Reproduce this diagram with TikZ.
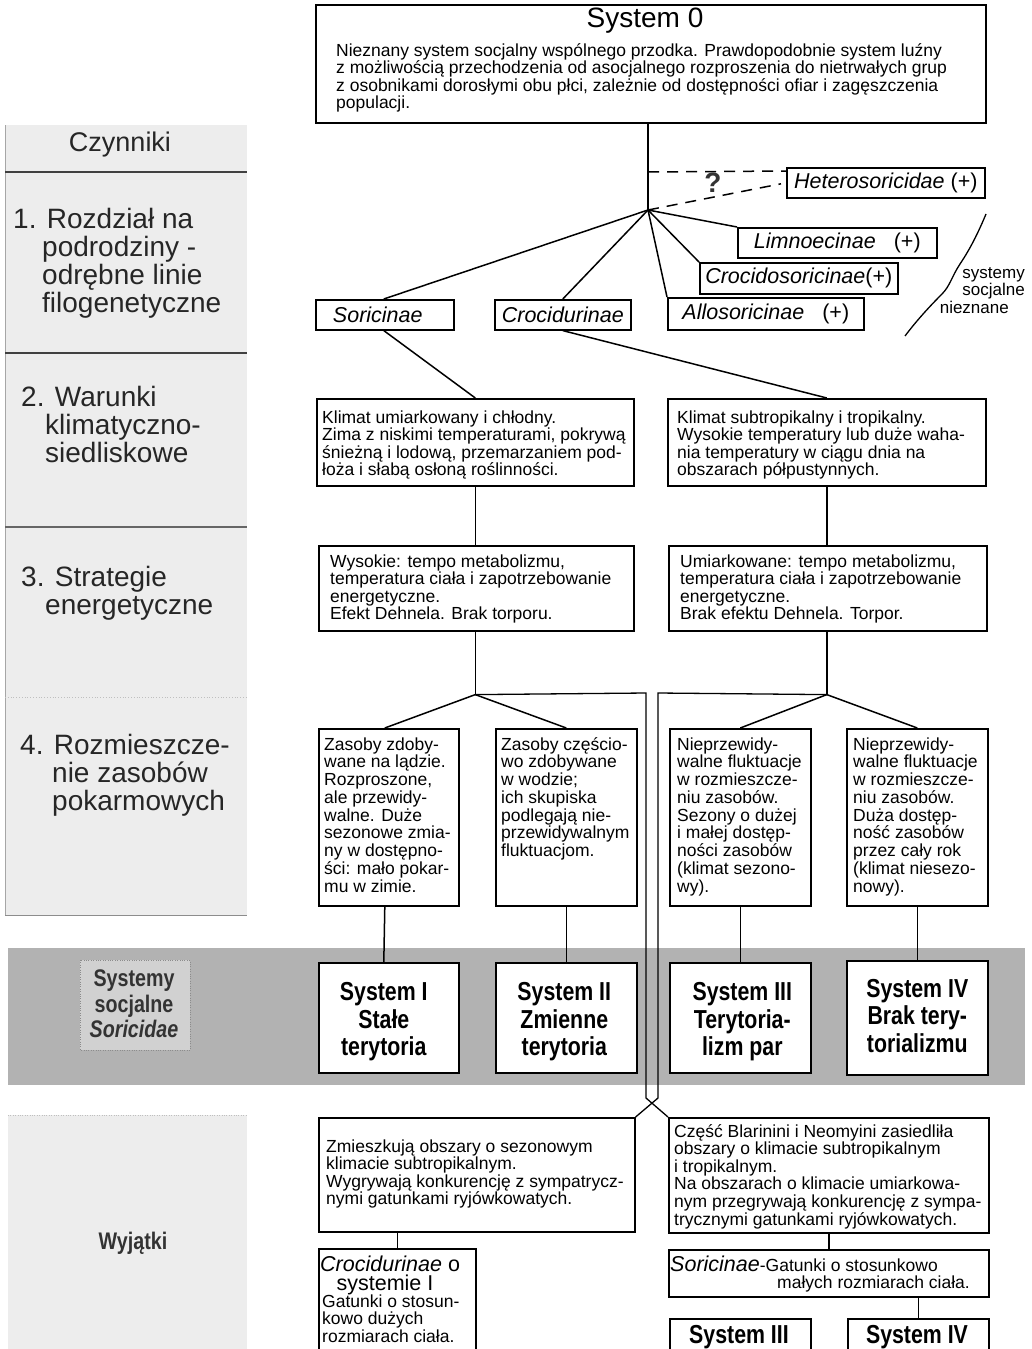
\documentclass[tikz,border=0pt]{standalone}
\usepackage{fontspec}
\setmainfont{Liberation Sans}
\newfontfamily\condf[FakeStretch=0.82]{Liberation Sans}
\usetikzlibrary{calc}
\begin{document}
\begin{tikzpicture}[x=1pt,y=-1pt,
 box/.style={draw, line width=1.6pt, rectangle, inner sep=0pt, anchor=north west, fill=white},
 con/.style={line width=1.5pt},
 body/.style={anchor=base west, inner sep=0pt, align=left, font=\fontsize{17.5}{17.6}\selectfont},
 lab/.style={anchor=base west, inner sep=0pt, align=left, font=\fontsize{28}{28}\selectfont, text=black!85},
 taxon/.style={box, font=\fontsize{21.5}{21.5}\selectfont\itshape},
 systxt/.style={inner sep=0pt, align=center, font=\condf\bfseries\fontsize{26}{27.5}\selectfont},
 bandtxt/.style={inner sep=0pt, align=center, font=\condf\bfseries\fontsize{24}{25.5}\selectfont, text=black!80}
]
\useasboundingbox (0,0) rectangle (1032,1349);
\clip (0,0) rectangle (1032,1349);
\fill[white] (0,0) rectangle (1032,1349);

% ---------- left column ----------
\fill[black!7] (5,125) rectangle (247,915);
\draw[black!35, line width=0.6pt] (5,125) -- (5,915);
\draw[black!75, line width=1.5pt] (5,172) -- (247,172);
\draw[black!75, line width=1.5pt] (5,353) -- (247,353);
\draw[black!60, line width=1.3pt] (5,527) -- (247,527);
\draw[black!25, line width=0.8pt, dotted] (5,697) -- (247,697);
\draw[black!45, line width=1pt] (5,915) -- (247,915);
\node[inner sep=0pt, font=\fontsize{27}{27}\selectfont, text=black!85] (czy) at (120,145) {Czynniki};
% base anchor = baseline of last line
\node[lab] (f1) at (13,312) {1. Rozdział na\\\hspace*{29pt}podrodziny -\\\hspace*{29pt}odrębne linie\\\hspace*{29pt}filogenetyczne};
\node[lab] (f2) at (21,462) {2. Warunki\\\hspace*{24pt}klimatyczno-\\\hspace*{24pt}siedliskowe};
\node[lab] (f3) at (21,614) {3. Strategie\\\hspace*{24pt}energetyczne};
\node[lab] (f4) at (20,810) {4. Rozmieszcze-\\\hspace*{32pt}nie zasobów\\\hspace*{32pt}pokarmowych};

% ---------- band ----------
\fill[black!30] (8,948) rectangle (1025,1085);
\draw[black!45, dotted, fill=black!18] (80,960) rectangle (190,1050);
\node[bandtxt] (bandlab) at (134,1004) {Systemy\\socjalne\\\textit{Soricidae}};

% ---------- exceptions column ----------
\fill[black!7] (8,1115) rectangle (247,1349);
\draw[black!25, dotted] (8,1115) -- (247,1115);
\node[bandtxt] (wyj) at (133,1243) {Wyjątki};

% ---------- System 0 ----------
\node[box, minimum width=670, minimum height=118] (sys0) at (315,4) {};
\node[inner sep=0pt, font=\fontsize{28}{28}\selectfont] (sys0t) at (645,21) {System 0};
\node[body] (sys0b) at (336,108.8) {Nieznany system socjalny wspólnego przodka. Prawdopodobnie system luźny\\z możliwością przechodzenia od asocjalnego rozproszenia do nietrwałych grup\\z osobnikami dorosłymi obu płci, zależnie od dostępności ofiar  i zagęszczenia\\populacji.};

% ---------- taxa ----------
\node[taxon, minimum width=198, minimum height=30] (het) at (786,167) {Heterosoricidae \textup{(+)}};
\node[taxon, minimum width=199, minimum height=30] (lim) at (737,227) {Limnoecinae \hspace{12pt}\textup{(+)}};
\node[taxon, minimum width=198, minimum height=31] (cso) at (699,262) {Crocidosoricinae\textup{(+)}};
\node[taxon, minimum width=196, minimum height=32] (all) at (667,297) {Allosoricinae \hspace{12pt}\textup{(+)}};
\node[taxon, minimum width=136, minimum height=30] (cro) at (494,299) {Crocidurinae};
\node[taxon, minimum width=138, minimum height=30] (sor) at (315,299) {Soricinae\hspace*{14pt}};

\coordinate (j0) at (648,210);
\coordinate (jd) at (648,172);
\draw[con] (sys0.south -| j0) -- (j0);
\draw[con, dashed, dash pattern=on 11pt off 8pt] (jd) -- ($(het.north west)+(0,4)$);
\draw[con, dashed, dash pattern=on 11pt off 8pt] (j0) -- ($(het.west)+(-5,1)$);
\node[inner sep=0pt, font=\bfseries\fontsize{28}{28}\selectfont, text=black!80] (q) at (713,183) {?};
\draw[con] (j0) -- (lim.north west);
\draw[con] (j0) -- (cso.north west);
\draw[con] (j0) -- (all.north west);
\draw[con] (j0) -- (cro.north);
\draw[con] (j0) -- ($(sor.north)+(-1,0)$);

% unknown systems
\draw[line width=1.3pt] (986,214) .. controls (976,238) and (968,252) .. (960,264)
  .. controls (952,276) and (950,286) .. (942,294)
  .. controls (926,310) and (914,324) .. (905,336);
\node[anchor=base east, inner sep=0pt, align=right, font=\fontsize{17}{17.5}\selectfont] (unk) at (1025,313) {systemy\\socjalne\hspace*{8pt}\\nieznane\hspace*{16pt}};

% ---------- climate ----------
\node[box, minimum width=317, minimum height=87] (klL) at (316,398) {};
\node[box, minimum width=318, minimum height=87] (klR) at (667,398) {};
\node[body] (klLt) at (322,475.8) {Klimat umiarkowany i chłodny.\\Zima z niskimi temperaturami, pokrywą\\śnieżną i lodową, przemarzaniem pod-\\łoża i słabą osłoną roślinności.};
\node[body] (klRt) at (677,475.8) {Klimat subtropikalny i tropikalny.\\Wysokie temperatury lub duże waha-\\nia temperatury w ciągu dnia na\\obszarach półpustynnych.};
\draw[con] ($(sor.south)+(-1,0)$) -- (klL.north);
\draw[con] (cro.south) -- (klR.north);

% ---------- energy ----------
\node[box, minimum width=315, minimum height=85] (enL) at (318,545) {};
\node[box, minimum width=318, minimum height=85] (enR) at (668,545) {};
\node[body] (enLt) at (330,619.8) {Wysokie: tempo metabolizmu,\\temperatura ciała i zapotrzebowanie\\energetyczne.\\Efekt Dehnela. Brak torporu.};
\node[body] (enRt) at (680,619.8) {Umiarkowane: tempo metabolizmu,\\temperatura ciała i zapotrzebowanie\\energetyczne.\\Brak efektu Dehnela. Torpor.};
\draw[con] (klL.south) -- (enL.north -| klL.south);
\draw[con] (klR.south) -- (enR.north -| klR.south);

% ---------- resources ----------
\node[box, minimum width=140, minimum height=177] (rA) at (318,728) {};
\node[box, minimum width=141, minimum height=177] (rB) at (495,728) {};
\node[box, minimum width=141, minimum height=177] (rC) at (669,728) {};
\node[box, minimum width=141, minimum height=177] (rD) at (846,728) {};
\node[body, font=\fontsize{17.5}{17.75}\selectfont] (rAt) at (324,892) {Zasoby zdoby-\\wane na lądzie.\\Rozproszone,\\ale przewidy-\\walne. Duże\\sezonowe zmia-\\ny w dostępno-\\ści: mało pokar-\\mu w zimie.};
\node[body, font=\fontsize{17.5}{17.75}\selectfont] (rBt) at (501,856.5) {Zasoby częścio-\\wo zdobywane\\w wodzie;\\ich skupiska\\podlegają nie-\\przewidywalnym\\fluktuacjom.};
\node[body, font=\fontsize{17.5}{17.75}\selectfont] (rCt) at (677,892) {Nieprzewidy-\\walne fluktuacje\\w rozmieszcze-\\niu zasobów.\\Sezony o dużej\\i małej dostęp-\\ności zasobów\\(klimat sezono-\\wy).};
\node[body, font=\fontsize{17.5}{17.75}\selectfont] (rDt) at (853,892) {Nieprzewidy-\\walne fluktuacje\\w rozmieszcze-\\niu zasobów.\\Duża dostęp-\\ność zasobów\\przez cały rok\\(klimat niesezo-\\nowy).};

\coordinate (jL) at (enL.south -| klL.south);
\coordinate (jL) at ($(jL)+(0,63)$);
\coordinate (jR) at (enR.south -| klR.south);
\coordinate (jR) at ($(jR)+(0,63)$);
\draw[con] (enL.south -| klL.south) -- (jL);
\draw[con] (enR.south -| klR.south) -- (jR);
\draw[con] (jL) -- ($(rA.north)+(-4,0)$);
\draw[con] (jL) -- (rB.north);
\draw[con] (jR) -- (rC.north);
\draw[con] (jR) -- (rD.north);

% ---------- systems ----------
\node[box, minimum width=140, minimum height=110] (sI) at (318,962) {};
\node[box, minimum width=141, minimum height=110] (sII) at (495,962) {};
\node[box, minimum width=141, minimum height=110] (sIII) at (669,962) {};
\node[box, minimum width=141, minimum height=114] (sIV) at (846,960) {};
\node[systxt] (sIt) at ($(sI)+(-5,4)$) {System I\\Stałe\\terytoria};
\node[systxt] (sIIt) at ($(sII)+(-2,4)$) {System II\\Zmienne\\terytoria};
\node[systxt] (sIIIt) at ($(sIII)+(2,4)$) {System III\\Terytoria-\\lizm par};
\node[systxt] (sIVt) at ($(sIV)+(0,-2)$) {System IV\\Brak tery-\\torializmu};
\draw[con] ($(rA.south)+(-4,0)$) -- ($(sI.north)+(-5,0)$);
\draw[con] (rB.south) -- (sII.north);
\draw[con] (rC.south) -- (sIII.north);
\draw[con] (rD.south) -- (sIV.north);

% ---------- exceptions ----------
\node[box, minimum width=316, minimum height=114] (exL) at (318,1117) {};
\node[box, minimum width=320, minimum height=115] (exR) at (668,1117) {};
\node[body] (exLt) at (326,1204.8) {Zmieszkują obszary o sezonowym\\klimacie subtropikalnym.\\Wygrywają konkurencję z sympatrycz-\\nymi gatunkami ryjówkowatych.};
\node[body] (exRt) at (674,1225) {Część Blarinini i Neomyini zasiedliła\\obszary o klimacie subtropikalnym\\i tropikalnym.\\Na obszarach o klimacie umiarkowa-\\nym przegrywają konkurencję z sympa-\\trycznymi gatunkami ryjówkowatych.};

% crossing connectors
\coordinate (kL) at (646,693);
\coordinate (kL2) at (646,1098);
\coordinate (kR) at (658,693);
\coordinate (kR2) at (658,1098);
\draw[con, line width=1.3pt] (jL) -- (kL) -- (kL2) -- (exR.north west);
\draw[con, line width=1.3pt] (jR) -- (kR) -- (kR2) -- (exL.north east);

% ---------- bottom ----------
\node[box, minimum width=157, minimum height=130] (cL) at (318,1248) {};
\node[anchor=base west, inner sep=0pt, font=\fontsize{21.5}{21.5}\selectfont] (cLt1) at (320,1271) {\textit{Crocidurinae} o};
\node[anchor=base, inner sep=0pt, font=\fontsize{21.5}{21.5}\selectfont] (cLt2) at (385,1290) {systemie I};
\node[body] (cLt3) at (322,1342.2) {Gatunki o stosun-\\kowo dużych\\rozmiarach ciała.};
\draw[con] (cL.north |- exL.south) -- (cL.north);

\node[box, minimum width=320, minimum height=47] (sr) at (668,1249) {};
\node[anchor=base west, inner sep=0pt, font=\fontsize{17.5}{17.5}\selectfont] (srt1) at (670,1271) {{\fontsize{21.5}{21.5}\selectfont\itshape Soricinae}-Gatunki o stosunkowo};
\node[anchor=base east, inner sep=0pt, font=\fontsize{17.5}{17.5}\selectfont] (srt2) at (970,1288) {małych rozmiarach ciała.};
\draw[con] (exR.south -| sr.north) -- (sr.north);

\node[box, minimum width=141, minimum height=60] (s3) at (669,1318) {};
\node[box, minimum width=141, minimum height=60] (s4) at (847,1318) {};
\node[systxt, anchor=base] (s3t) at (739,1343) {System III};
\node[systxt, anchor=base] (s4t) at (917,1343) {System IV};
\draw[con] ($(s3.north)+(-3,0)$ |- sr.south) -- ($(s3.north)+(-3,0)$);
\draw[con] (s4.north |- sr.south) -- (s4.north);
\end{tikzpicture}
\end{document}
